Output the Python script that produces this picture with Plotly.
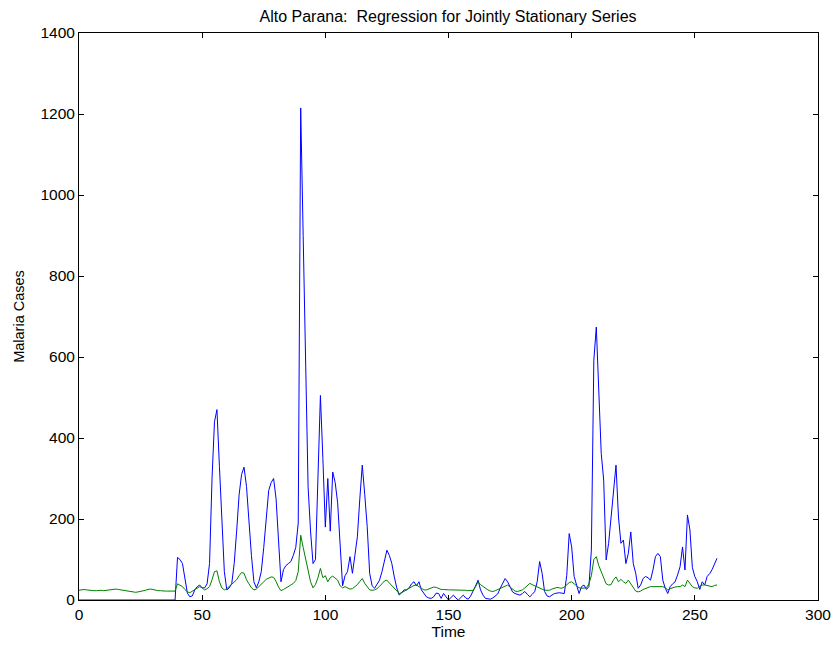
import plotly.graph_objects as go

title_text = "Alto Parana:  Regression for Jointly Stationary Series"
x_label = "Time"
y_label = "Malaria Cases"
x_ticks = [0, 50, 100, 150, 200, 250, 300]
y_ticks = [0, 200, 400, 600, 800, 1000, 1200, 1400]

time = list(range(0, 260))

observed = [0] * 40 + [
    105, 100, 90, 50, 17, 8, 10, 25, 33, 37,
    30, 30, 40, 90, 300, 440, 470, 330, 190, 70,
    25, 30, 40, 90, 170, 260, 310, 328, 280, 190,
    110, 45, 30, 45, 70, 130, 210, 270, 290, 300,
    250, 130, 45, 75, 85, 90, 95, 110, 130, 190,
    1215, 900, 600, 280, 170, 90, 100, 300, 505, 350,
    180, 300, 170, 316, 290, 240, 131, 35, 60, 70,
    107, 66, 110, 156, 250, 333, 260, 181, 66, 35,
    29, 40, 49, 70, 100, 123, 110, 90, 57, 30,
    12, 20, 25, 25, 30, 40, 45, 35, 45, 25,
    17, 8, 5, 4, 8, 17, 16, 4, 16, 8,
    0, 6, 12, 5, 0, 6, 12, 5, 2, 10,
    21, 35, 49, 25, 12, 4, 3, 2, 5, 10,
    15, 29, 40, 53, 45, 33, 20, 16, 14, 12,
    16, 21, 14, 8, 14, 21, 45, 95, 66, 21,
    10, 8, 12, 16, 17, 18, 17, 16, 60, 164,
    131, 58, 37, 16, 33, 37, 26, 33, 123, 592,
    674, 526, 362, 296, 99, 140, 200, 255, 333, 205,
    140, 148, 90, 115, 168, 90, 66, 29, 37, 53,
    58, 55, 49, 74, 107, 115, 107, 49, 29, 16,
    33, 40, 45, 62, 82, 131, 74, 210, 173, 80,
    58, 45, 26, 45, 37, 58, 65, 75, 90, 103,
]

fitted = [
    24, 25, 26, 25, 24, 24, 23, 23, 24, 24,
    23, 24, 25, 26, 27, 27, 26, 25, 24, 24,
    23, 22, 20, 19, 20, 21, 22, 24, 26, 27,
    26, 24, 23, 23, 22, 22, 22, 22, 22, 22,
    40, 36, 33, 26, 20, 18, 22, 27, 30, 33,
    30, 25, 28, 33, 50, 70, 72, 45, 30, 25,
    28, 33, 38, 45, 50, 60, 68, 66, 50, 40,
    30, 25, 27, 33, 38, 45, 51, 55, 57, 56,
    46, 32, 23, 26, 29, 32, 37, 41, 48, 70,
    160, 130, 100, 66, 45, 30, 38, 55, 78, 55,
    60, 45, 55, 59, 55, 49, 35, 30, 33, 30,
    27, 28, 32, 38, 46, 53, 41, 32, 25, 24,
    25, 28, 33, 40, 47, 49, 42, 35, 28, 21,
    16, 18, 22, 25, 29, 33, 36, 37, 33, 28,
    25, 25, 27, 30, 32, 31, 28, 26, 26, 25,
    25, 25, 25, 24, 24, 24, 24, 24, 23, 23,
    24, 33, 45, 38, 33, 29, 25, 22, 21, 23,
    26, 29, 32, 35, 37, 32, 26, 22, 21, 23,
    25, 30, 36, 41, 38, 35, 32, 28, 25, 24,
    24, 24, 27, 30, 31, 30, 29, 32, 38, 43,
    45, 40, 35, 30, 29, 30, 30, 40, 60, 100,
    107, 85, 70, 52, 40, 37, 38, 50, 57, 45,
    51, 45, 41, 49, 40, 32, 22, 20, 22, 26,
    29, 31, 33, 33, 33, 34, 33, 33, 30, 25,
    28, 31, 32, 33, 33, 37, 33, 49, 40, 33,
    30, 29, 34, 37, 37, 36, 34, 33, 36, 37,
]

FONT = "Liberation Sans, Arial, sans-serif"

fig = go.Figure()
fig.add_trace(go.Scatter(x=time, y=observed, mode="lines",
                         line=dict(color="#0000ff", width=1), showlegend=False))
fig.add_trace(go.Scatter(x=time, y=fitted, mode="lines",
                         line=dict(color="#008000", width=1), showlegend=False))

axis_common = dict(showline=True, linecolor="black", linewidth=1, mirror="ticks",
                   ticks="inside", ticklen=5, tickcolor="black", tickwidth=1,
                   showgrid=False, zeroline=False, automargin=False,
                   tickfont=dict(family=FONT, size=15.5, color="black"))

fig.update_layout(
    width=832, height=645,
    margin=dict(l=79, r=14, t=33, b=45, pad=0, autoexpand=False),
    paper_bgcolor="white", plot_bgcolor="white",
    title=dict(text=title_text, x=0.5385, xanchor="center", y=0.975, yanchor="middle",
               font=dict(family=FONT, size=16, color="black")),
    xaxis=dict(range=[0, 300], tickvals=x_ticks, ticktext=[str(v) for v in x_ticks],
               title=dict(text=x_label, font=dict(family=FONT, size=15.5, color="black"), standoff=2),
               **axis_common),
    yaxis=dict(range=[0, 1400], tickvals=y_ticks, ticktext=[str(v) for v in y_ticks],
               title=dict(text=y_label, font=dict(family=FONT, size=14.5, color="black"), standoff=12),
               **axis_common),
)

fig.write_html("out.html")
